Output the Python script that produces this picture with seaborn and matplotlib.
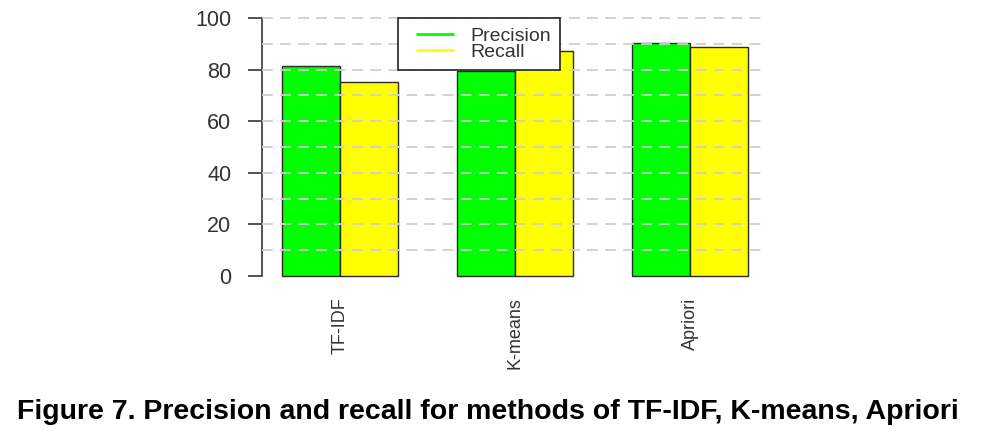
import matplotlib
matplotlib.use("Agg")
import matplotlib.pyplot as plt
import seaborn as sns
import pandas as pd
from matplotlib.lines import Line2D
from matplotlib.legend_handler import HandlerLine2D

methods = ["TF-IDF", "K-means", "Apriori"]
precision = [81.5, 79.5, 90.2]
recall = [75.3, 87.2, 88.9]
series_names = ["Precision", "Recall"]
series_colors = ["#00FF00", "#FFFF00"]
y_ticks = [0, 20, 40, 60, 80, 100]
caption = "Figure 7. Precision and recall for methods of TF-IDF, K-means, Apriori"

df = pd.DataFrame({
    "method": methods * 2,
    "metric": [series_names[0]] * 3 + [series_names[1]] * 3,
    "value": precision + recall,
})

sns.set_theme(style="white")
plt.rcParams["font.family"] = ["Liberation Sans", "DejaVu Sans"]

fig = plt.figure(figsize=(9.82, 4.32), dpi=100)
W, H = 982, 432
left, right = 262, 767
top, bottom = 7.7, 286.3
ax = fig.add_axes([left / W, 1 - bottom / H, (right - left) / W, (bottom - top) / H])

sns.barplot(data=df, x="method", y="value", hue="metric", order=methods,
            hue_order=series_names, palette=series_colors, width=0.668,
            edgecolor="#2a2a2a", linewidth=1.0, saturation=1, legend=False,
            errorbar=None, ax=ax, zorder=2)

ax.set_xlim(-0.446, 2.44)
ax.set_ylim(-4, 104)

# dashed grid lines every 10, drawn over the bars
for v in range(10, 101, 10):
    ax.axhline(v, xmin=0, xmax=0.992, color="#cfcfcf", lw=1.3,
               dashes=(6, 4), zorder=4)

for s in ["top", "right", "bottom"]:
    ax.spines[s].set_visible(False)
ax.spines["left"].set_bounds(0, 100)
ax.spines["left"].set_color("#444444")
ax.spines["left"].set_linewidth(1.3)

ax.set_yticks(y_ticks)
ax.set_yticklabels([str(t) for t in y_ticks])
ax.tick_params(axis="y", direction="out", length=10, width=1.3, color="#444444",
               pad=12, labelsize=15.5, labelcolor="#333333", left=True)
ax.tick_params(axis="x", length=0, pad=8, labelsize=13, labelcolor="#333333",
               rotation=90)
for lbl in ax.get_xticklabels():
    lbl.set_va("top")
ax.set_xlabel("")
ax.set_ylabel("")
ax.set_facecolor("white")


class ShiftedLineHandler(HandlerLine2D):
    def create_artists(self, legend, orig_handle, xdescent, ydescent, width,
                       height, fontsize, trans):
        artists = super().create_artists(legend, orig_handle, xdescent, ydescent,
                                         width, height, fontsize, trans)
        for a in artists:
            xd = list(a.get_xdata())
            yd = list(a.get_ydata())
            if len(xd) >= 2 and len(yd) >= 2:
                x0, x1 = xd[0], xd[-1]
                a.set_data([x0 + 0.22 * (x1 - x0), x1], [yd[0], yd[-1]])
        return artists


handles = [Line2D([0], [0], color=c, lw=2) for c in series_colors]
leg = fig.legend(handles, series_names, loc="upper left",
                 bbox_to_anchor=(398 / W, 1 - 18 / H), frameon=True,
                 fontsize=14, handlelength=2.37, handletextpad=0.87,
                 labelspacing=-0.08, borderpad=0.48, borderaxespad=0,
                 fancybox=False,
                 handler_map={Line2D: ShiftedLineHandler()})
leg.set_zorder(10)
leg.get_frame().set_edgecolor("#222222")
leg.get_frame().set_linewidth(1.2)
leg.get_frame().set_facecolor("white")
leg.get_frame().set_alpha(1)
for t in leg.get_texts():
    t.set_color("#333333")

fig.text(0.497, 1 - 412 / H, caption, ha="center", va="center",
         fontsize=20.5, fontweight="bold", color="black")

fig.savefig("out.png", dpi=100, facecolor="white")
